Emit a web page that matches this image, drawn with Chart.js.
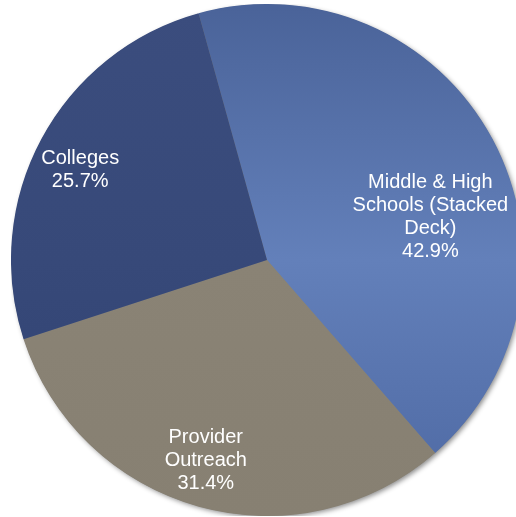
<!DOCTYPE html>
<html>
<head>
<meta charset="utf-8">
<script src="https://cdn.jsdelivr.net/npm/chart.js@4.4.1/dist/chart.umd.min.js"></script>
<style>
  html, body { margin: 0; padding: 0; background: #fff; overflow: hidden; width: 516px; height: 517px; }
  #wrap { position: absolute; left: 11px; top: 4px; width: 512px; height: 512px; }
</style>
</head>
<body>
<div id="wrap"><canvas id="pie"></canvas></div>
<script>
// Share of outreach by program
const labels = ['Middle & High\nSchools (Stacked\nDeck)', 'Provider\nOutreach', 'Colleges'];
const shares = [42.9, 31.4, 25.7];

// gradient stops per slice (top -> bottom)
const sliceColors = [
    ['#4a6399', '#6380ba', '#4d68a2'],
    ['#8b8476', '#8a8375', '#878072'],
    ['#3b4d7e', '#374979', '#304272']
];

// label placement: fraction of radius and small angle nudge (deg)
const labelRadius = [0.66, 0.82, 0.81];
const labelNudge = [13.5, 1.5, -2.5];

function sliceFill(context) {
    const chart = context.chart;
    const area = chart.chartArea;
    if (!area) return sliceColors[context.dataIndex][1];
    const stops = sliceColors[context.dataIndex];
    const g = chart.ctx.createLinearGradient(0, area.top, 0, area.bottom);
    g.addColorStop(0, stops[0]);
    g.addColorStop(0.5, stops[1]);
    g.addColorStop(1, stops[2]);
    return g;
}

// soft drop shadow under the whole pie
const pieShadow = {
    id: 'pieShadow',
    beforeDatasetsDraw(chart) {
        const arc = chart.getDatasetMeta(0).data[0];
        if (!arc) return;
        const ctx = chart.ctx;
        ctx.save();
        ctx.shadowColor = 'rgba(0,0,0,0.45)';
        ctx.shadowBlur = 5;
        ctx.shadowOffsetX = 2;
        ctx.shadowOffsetY = 2;
        ctx.fillStyle = '#7f7f7f';
        ctx.beginPath();
        ctx.arc(arc.x, arc.y, arc.outerRadius - 0.5, 0, Math.PI * 2);
        ctx.fill();
        ctx.restore();
    }
};

// category name + percentage written inside each slice
const sliceLabels = {
    id: 'sliceLabels',
    afterDatasetsDraw(chart) {
        const ctx = chart.ctx;
        const meta = chart.getDatasetMeta(0);
        ctx.save();
        ctx.fillStyle = '#ffffff';
        ctx.font = '20px "Liberation Sans", Arial, sans-serif';
        ctx.textAlign = 'center';
        ctx.textBaseline = 'middle';
        const lineH = 23;
        meta.data.forEach((arc, i) => {
            const mid = (arc.startAngle + arc.endAngle) / 2 + labelNudge[i] * Math.PI / 180;
            const r = arc.outerRadius * labelRadius[i];
            const x = arc.x + Math.cos(mid) * r;
            const y = arc.y + Math.sin(mid) * r;
            const lines = labels[i].split('\n').concat([shares[i].toFixed(1) + '%']);
            const top = y - (lines.length - 1) * lineH / 2;
            lines.forEach((t, k) => ctx.fillText(t, x, top + k * lineH));
        });
        ctx.restore();
    }
};

new Chart(document.getElementById('pie'), {
    type: 'pie',
    data: {
        labels: labels,
        datasets: [{
            data: shares,
            backgroundColor: sliceFill,
            borderWidth: 0
        }]
    },
    options: {
        responsive: true,
        maintainAspectRatio: false,
        animation: false,
        rotation: -15.5,
        layout: { padding: 0 },
        plugins: {
            legend: { display: false },
            tooltip: { enabled: false }
        }
    },
    plugins: [pieShadow, sliceLabels]
});
</script>
</body>
</html>
